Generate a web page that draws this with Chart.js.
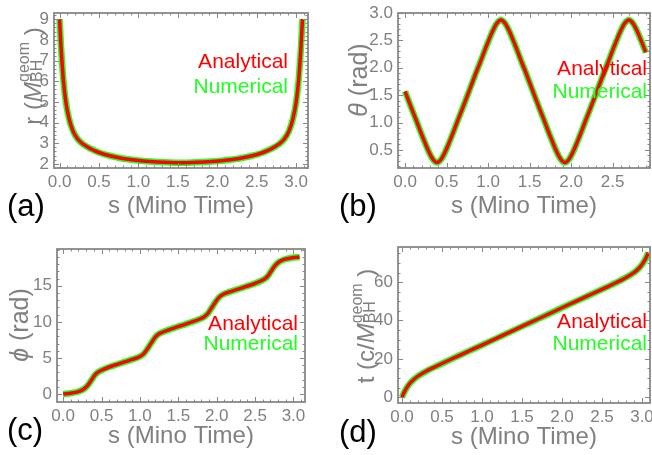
<!DOCTYPE html>
<html>
<head>
<meta charset="utf-8">
<script src="https://cdn.jsdelivr.net/npm/chart.js@4.4.0/dist/chart.umd.min.js"></script>
<style>
body{margin:0;background:#fff;}
#wrap{position:relative;width:652px;height:455px;overflow:hidden;}
#wrap canvas{position:absolute;}
</style>
</head>
<body>
<div id="wrap">
<canvas id="chartR" width="326" height="227" style="left:0;top:0"></canvas>
<canvas id="chartTheta" width="326" height="227" style="left:326px;top:0"></canvas>
<canvas id="chartPhi" width="326" height="228" style="left:0;top:227px"></canvas>
<canvas id="chartT" width="326" height="228" style="left:326px;top:227px"></canvas>
</div>
<script>

/* ================================
   DATA
================================ */

// (a) r vs Mino time
const sR = [0, 0.02, 0.05, 0.08, 0.12, 0.17, 0.23, 0.3, 0.4, 0.5, 0.65, 0.8, 1.0, 1.2, 1.4, 1.54,
            1.68, 1.88, 2.08, 2.28, 2.43, 2.58, 2.68, 2.78, 2.85, 2.91, 2.96, 3.0, 3.03, 3.06, 3.08];
const rValues = [9.0, 7.6, 6.0, 5.0, 4.2, 3.6, 3.2, 2.95, 2.72, 2.55, 2.38, 2.26, 2.16, 2.1, 2.07, 2.06,
                 2.07, 2.1, 2.16, 2.26, 2.38, 2.55, 2.72, 2.95, 3.2, 3.6, 4.2, 5.0, 6.0, 7.6, 9.0];

// (b) theta vs Mino time
const sTheta = [0, 0.085, 0.135, 0.185, 0.235, 0.285, 0.335, 0.385, 0.435, 0.485, 0.535, 0.585, 0.635, 0.685,
                0.77, 0.855, 0.905, 0.955, 1.005, 1.055, 1.105, 1.155, 1.205, 1.255, 1.305, 1.355, 1.405, 1.455,
                1.54, 1.625, 1.675, 1.725, 1.775, 1.825, 1.875, 1.925, 1.975, 2.025, 2.075, 2.125, 2.175, 2.225,
                2.31, 2.395, 2.445, 2.495, 2.545, 2.595, 2.645, 2.695, 2.745, 2.795, 2.845, 2.9];
const thetaValues = [1.57, 1.23, 1.04, 0.84, 0.65, 0.47, 0.33, 0.27, 0.33, 0.47, 0.65, 0.84, 1.04, 1.23,
                     1.57, 1.91, 2.10, 2.30, 2.49, 2.67, 2.81, 2.87, 2.81, 2.67, 2.49, 2.30, 2.10, 1.91,
                     1.57, 1.23, 1.04, 0.84, 0.65, 0.47, 0.33, 0.27, 0.33, 0.47, 0.65, 0.84, 1.04, 1.23,
                     1.57, 1.91, 2.10, 2.30, 2.49, 2.67, 2.81, 2.87, 2.81, 2.67, 2.49, 2.28];

// (c) phi vs Mino time
const sPhi = [0, 0.1, 0.2, 0.27, 0.32, 0.36, 0.385, 0.41, 0.45, 0.5, 0.6, 0.7, 0.8, 0.9, 1.0, 1.05, 1.1, 1.155,
              1.2, 1.25, 1.3, 1.4, 1.54, 1.68, 1.78, 1.83, 1.88, 1.925, 1.98, 2.03, 2.08, 2.18, 2.28, 2.38,
              2.48, 2.58, 2.63, 2.67, 2.695, 2.72, 2.76, 2.81, 2.88, 2.98, 3.08];
const phiValues = [0, 0.12, 0.35, 0.7, 1.2, 1.8, 2.2, 2.6, 3.0, 3.3, 3.75, 4.1, 4.45, 4.8, 5.2, 5.6, 6.3, 7.2,
                   7.9, 8.35, 8.6, 9.0, 9.5, 10.0, 10.4, 10.65, 11.1, 11.8, 12.7, 13.4, 13.8, 14.2, 14.55, 14.9,
                   15.25, 15.7, 16.0, 16.4, 16.8, 17.2, 17.8, 18.3, 18.65, 18.88, 19.0];

// (d) t vs Mino time
const sT = [0, 0.03, 0.06, 0.1, 0.15, 0.2, 0.3, 0.4, 0.5, 0.65, 0.8, 1.0, 1.2, 1.4, 1.54,
            1.68, 1.88, 2.08, 2.28, 2.43, 2.58, 2.68, 2.78, 2.88, 2.93, 2.98, 3.02, 3.05, 3.08];
const tValues = [0, 2.8, 5.0, 7.3, 9.4, 11.0, 13.5, 15.6, 17.6, 20.5, 23.4, 27.2, 31.1, 35.0, 37.7,
                 40.4, 44.3, 48.2, 52.0, 54.9, 57.8, 59.8, 61.9, 64.4, 66.0, 68.1, 70.4, 72.6, 75.4];

// tick labels
const sTicksFull = [0, 0.5, 1.0, 1.5, 2.0, 2.5, 3.0];
const sTicksShort = [0, 0.5, 1.0, 1.5, 2.0, 2.5];
const rTicks = [2, 3, 4, 5, 6, 7, 8, 9];
const thetaTicks = [0.5, 1.0, 1.5, 2.0, 2.5, 3.0];
const phiTicks = [0, 5, 10, 15];
const tTicks = [0, 20, 40, 60];


/* ================================
   STYLE
================================ */

const FONT = '"Liberation Sans", Arial, sans-serif';
const axisGray = "#808080";
const frameGray = "#888888";
const analyticRed = "#ff0000";
const numericGreen = "#22ff22";

function fontStr(size, italic){
    return (italic ? "italic " : "") + size + "px " + FONT;
}

// per-canvas decorations: frame ticks, titles, inset legend, panel letter
const decorations = {
    chartR: {
        xTicks: sTicksFull, yTicks: rTicks, xMinor: 0.1, yMinor: 0.2,
        panel: "(a)", panelX: 7, panelY: 216,
        xTitleX: 181, xTitleY: 213,
        yTitleX: 41, yTitleY: 76,
        yTitle: [
            {text: "r (", size: 24},
            {text: "M", size: 24, italic: true},
            {sup: "geom", sub: "BH", size: 16},
            {text: " )", size: 24}
        ],
        legendX: 288, legendY1: 68, legendY2: 93
    },
    chartTheta: {
        xTicks: sTicksShort, yTicks: thetaTicks, xMinor: 0.1, yMinor: 0.1,
        panel: "(b)", panelX: 13, panelY: 216,
        xTitleX: 198, xTitleY: 213,
        yTitleX: 41, yTitleY: 80,
        yTitle: [
            {text: "θ", size: 25, italic: true},
            {text: " (rad)", size: 25}
        ],
        legendX: 321, legendY1: 75, legendY2: 98
    },
    chartPhi: {
        xTicks: sTicksFull, yTicks: phiTicks, xMinor: 0.1, yMinor: 1,
        panel: "(c)", panelX: 7, panelY: 213,
        xTitleX: 181, xTitleY: 216,
        yTitleX: 28, yTitleY: 98,
        yTitle: [
            {text: "ϕ", size: 25, italic: true},
            {text: " (rad)", size: 25}
        ],
        legendX: 298, legendY1: 103, legendY2: 123
    },
    chartT: {
        xTicks: sTicksFull, yTicks: tTicks, xMinor: 0.1, yMinor: 5,
        panel: "(d)", panelX: 13, panelY: 215,
        xTitleX: 198, xTitleY: 217,
        yTitleX: 48, yTitleY: 99,
        yTitle: [
            {text: "t (c/", size: 24},
            {text: "M", size: 24, italic: true},
            {sup: "geom", sub: "BH", size: 16},
            {text: " )", size: 24}
        ],
        legendX: 321, legendY1: 101, legendY2: 123
    }
};


/* ================================
   PLUGIN: Mathematica-style frame
================================ */

function drawYTitle(ctx, parts, cx, cy){

    ctx.save();
    ctx.translate(cx, cy);
    ctx.rotate(-Math.PI/2);
    ctx.fillStyle = axisGray;
    ctx.textAlign = "left";
    ctx.textBaseline = "alphabetic";

    const widths = parts.map(p=>{
        if(p.sup){
            ctx.font = fontStr(p.size, false);
            return Math.max(ctx.measureText(p.sup).width, ctx.measureText(p.sub).width);
        }
        ctx.font = fontStr(p.size, p.italic);
        return ctx.measureText(p.text).width;
    });

    let pos = -widths.reduce((a,b)=>a+b, 0)/2;

    parts.forEach((p,i)=>{
        if(p.sup){
            ctx.font = fontStr(p.size, false);
            ctx.fillText(p.sup, pos, -12);
            ctx.fillText(p.sub, pos, 1);
        }else{
            ctx.font = fontStr(p.size, p.italic);
            ctx.fillText(p.text, pos, 0);
        }
        pos += widths[i];
    });

    ctx.restore();
}

function strokeTicks(ctx, scale, majors, minorStep, horizontal, area){

    const start = Math.ceil(scale.min/minorStep - 1e-6);
    const end = Math.floor(scale.max/minorStep + 1e-6);

    for(let k=start; k<=end; k++){

        const v = k*minorStep;
        const isMajor = majors.some(m=>Math.abs(m-v) < 1e-6);
        const len = isMajor ? 5 : 2.5;
        const p = Math.round(scale.getPixelForValue(v)) + 0.5;

        if(horizontal){
            ctx.moveTo(p, area.bottom); ctx.lineTo(p, area.bottom-len);
            ctx.moveTo(p, area.top); ctx.lineTo(p, area.top+len);
        }else{
            ctx.moveTo(area.left, p); ctx.lineTo(area.left+len, p);
            ctx.moveTo(area.right, p); ctx.lineTo(area.right-len, p);
        }
    }
}

const panelDecor = {
    id: "panelDecor",
    afterDraw(chart){

        const deco = decorations[chart.canvas.id];
        if(!deco) return;

        const ctx = chart.ctx;
        const area = chart.chartArea;

        ctx.save();

        // ticks on all four sides, pointing in
        ctx.strokeStyle = frameGray;
        ctx.lineWidth = 1;
        ctx.beginPath();
        strokeTicks(ctx, chart.scales.x, deco.xTicks, deco.xMinor, true, area);
        strokeTicks(ctx, chart.scales.y, deco.yTicks, deco.yMinor, false, area);
        ctx.stroke();

        // frame
        ctx.lineWidth = 1.8;
        ctx.strokeRect(area.left, area.top, area.right-area.left, area.bottom-area.top);

        // inset legend
        ctx.font = fontStr(21, false);
        ctx.textAlign = "right";
        ctx.textBaseline = "alphabetic";
        ctx.fillStyle = analyticRed;
        ctx.fillText("Analytical", deco.legendX, deco.legendY1);
        ctx.fillStyle = numericGreen;
        ctx.fillText("Numerical", deco.legendX, deco.legendY2);

        // x title
        ctx.font = fontStr(24, false);
        ctx.textAlign = "center";
        ctx.fillStyle = axisGray;
        ctx.fillText("s (Mino Time)", deco.xTitleX, deco.xTitleY);

        // panel letter
        ctx.font = fontStr(31, false);
        ctx.textAlign = "left";
        ctx.fillStyle = "#000000";
        ctx.fillText(deco.panel, deco.panelX, deco.panelY);

        ctx.restore();

        drawYTitle(ctx, deco.yTitle, deco.yTitleX, deco.yTitleY);
    }
};


/* ================================
   CHART BUILDER
================================ */

function buildPanel(canvasId, xs, ys, setup){

    const points = xs.map((s,i)=>({x:s, y:ys[i]}));

    return new Chart(document.getElementById(canvasId).getContext("2d"),{

        type:"line",

        data:{
            datasets:[
                {
                    label:"Analytical",
                    data:points,
                    borderColor:analyticRed,
                    borderWidth:3.5,
                    pointRadius:0,
                    cubicInterpolationMode:"monotone",
                    fill:false
                },
                {
                    label:"Numerical",
                    data:points,
                    borderColor:numericGreen,
                    borderWidth:6.5,
                    pointRadius:0,
                    cubicInterpolationMode:"monotone",
                    fill:false
                }
            ]
        },

        options:{
            responsive:false,
            animation:false,
            events:[],
            layout:{padding:setup.padding},
            plugins:{
                legend:{display:false},
                tooltip:{enabled:false}
            },
            scales:{
                x:{
                    type:"linear",
                    min:setup.xMin,
                    max:setup.xMax,
                    grid:{display:false, drawTicks:false},
                    border:{display:false},
                    ticks:{
                        color:axisGray,
                        font:{family:FONT, size:17},
                        padding:4,
                        maxRotation:0,
                        autoSkip:false,
                        callback:v=>v.toFixed(1)
                    },
                    afterBuildTicks:scale=>{
                        scale.ticks = setup.xTicks.map(v=>({value:v}));
                    },
                    afterFit:scale=>{
                        scale.height = setup.xHeight;
                        scale.paddingLeft = 0;
                        scale.paddingRight = 0;
                    }
                },
                y:{
                    type:"linear",
                    min:setup.yMin,
                    max:setup.yMax,
                    grid:{display:false, drawTicks:false},
                    border:{display:false},
                    ticks:{
                        color:axisGray,
                        font:{family:FONT, size:17},
                        padding:5,
                        autoSkip:false,
                        callback:v=>setup.yFormat(v)
                    },
                    afterBuildTicks:scale=>{
                        scale.ticks = setup.yTicks.map(v=>({value:v}));
                    },
                    afterFit:scale=>{
                        scale.width = setup.yWidth;
                        scale.paddingTop = 0;
                        scale.paddingBottom = 0;
                    }
                }
            }
        },

        plugins:[panelDecor]
    });
}


document.addEventListener("DOMContentLoaded", function(){

    buildPanel("chartR", sR, rValues, {
        xMin:-0.07, xMax:3.15, yMin:1.8, yMax:9.3,
        xTicks:sTicksFull, yTicks:rTicks,
        yFormat:v=>String(v),
        padding:{left:0, top:13, right:18, bottom:0},
        xHeight:59, yWidth:54
    });

    buildPanel("chartTheta", sTheta, thetaValues, {
        xMin:-0.085, xMax:2.95, yMin:0.17, yMax:3.0,
        xTicks:sTicksShort, yTicks:thetaTicks,
        yFormat:v=>v.toFixed(1),
        padding:{left:0, top:13, right:2, bottom:0},
        xHeight:59, yWidth:72
    });

    buildPanel("chartPhi", sPhi, phiValues, {
        xMin:-0.08, xMax:3.15, yMin:-1.1, yMax:20.1,
        xTicks:sTicksFull, yTicks:phiTicks,
        yFormat:v=>String(v),
        padding:{left:0, top:22, right:21, bottom:0},
        xHeight:53, yWidth:57
    });

    buildPanel("chartT", sT, tValues, {
        xMin:-0.05, xMax:3.1, yMin:-3, yMax:78.3,
        xTicks:sTicksFull, yTicks:tTicks,
        yFormat:v=>String(v),
        padding:{left:0, top:20, right:2, bottom:0},
        xHeight:52, yWidth:72
    });

});
</script>
</body>
</html>
